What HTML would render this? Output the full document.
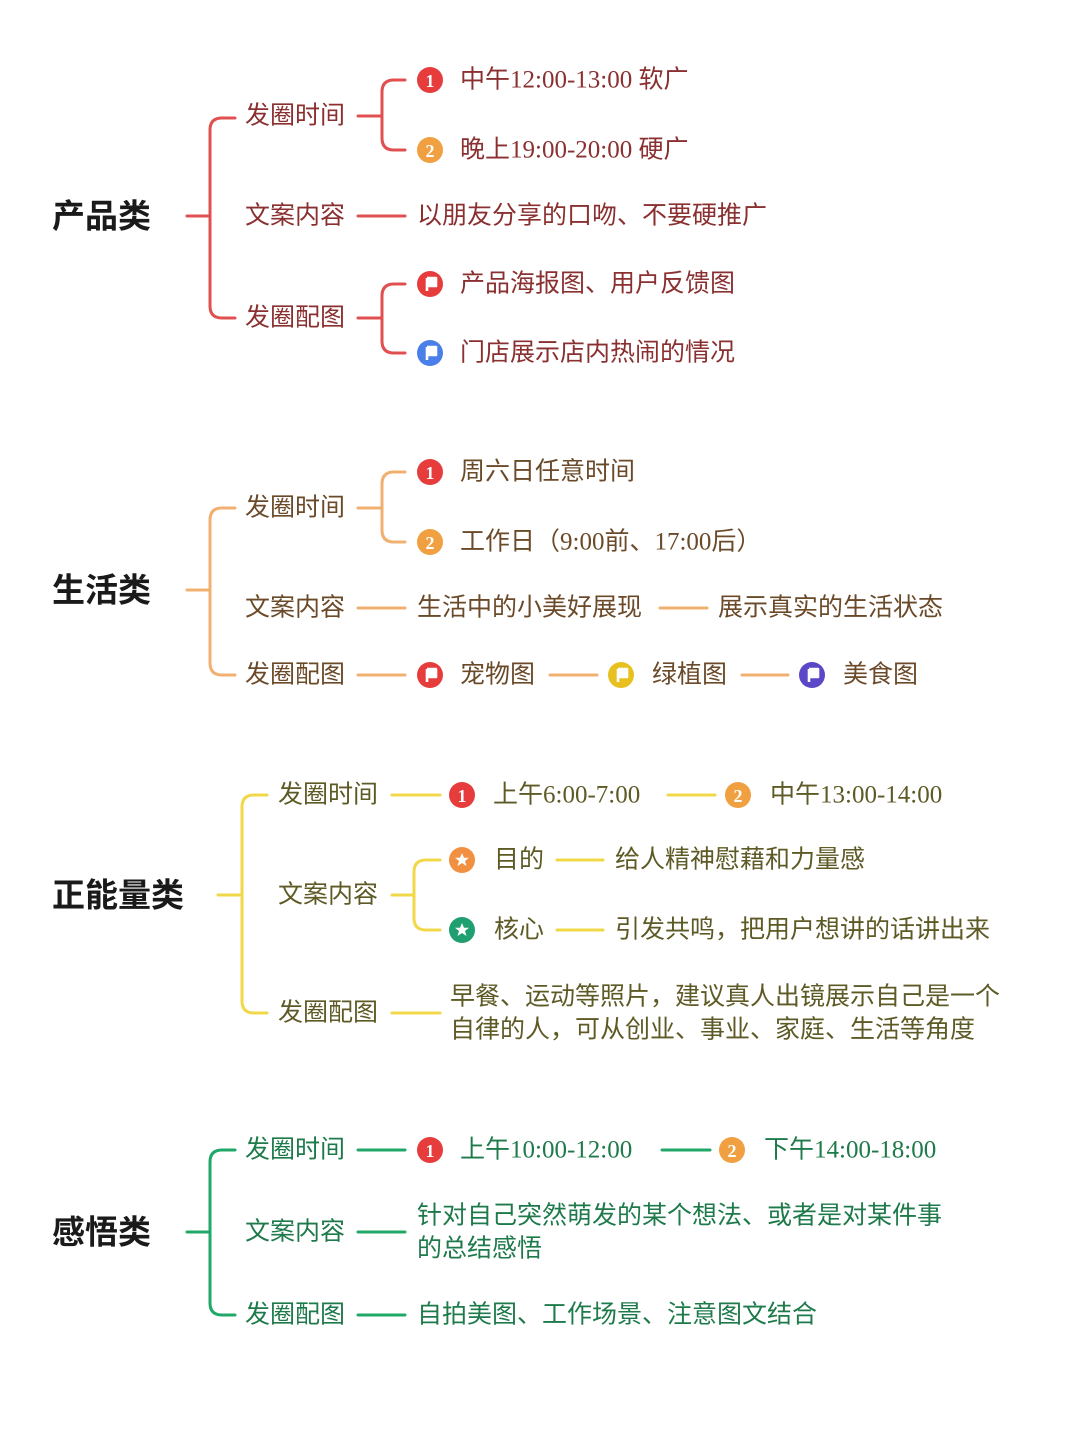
<!DOCTYPE html>
<html><head><meta charset="utf-8"><style>
html,body{margin:0;padding:0;background:#fff;}
svg{display:block;}
text{font-family:"Liberation Serif","Noto Sans CJK SC",serif;font-size:25px;dominant-baseline:central;}
.t{font-family:"Liberation Sans","Noto Sans CJK SC",sans-serif;font-size:33px;font-weight:bold;fill:#1a1a1a;}
</style></head><body>
<svg width="1080" height="1440" viewBox="0 0 1080 1440" xmlns="http://www.w3.org/2000/svg">
<defs>
<g id="flag"><path d="M-4,-6 V7 M-4,-6 H5 V2 H-4" stroke="#fff" stroke-width="2.6" fill="#fff" stroke-linejoin="round"/></g>
<g id="star"><polygon points="0,-7 2,-2.2 7,-2.2 3,1 4.5,6 0,3 -4.5,6 -3,1 -7,-2.2 -2,-2.2" fill="#fff"/></g>
</defs>

<!-- Section 1 red -->
<g fill="none" stroke="#e05050" stroke-width="3" stroke-linecap="round">
<path d="M187,216 H210"/>
<path d="M235,118 H222 Q210,118 210,130 V306 Q210,318 222,318 H235"/>
<path d="M358,116 H382"/>
<path d="M405,80 H394 Q382,80 382,92 V138 Q382,150 394,150 H405"/>
<path d="M358,216 H405"/>
<path d="M358,318 H382"/>
<path d="M405,284 H394 Q382,284 382,296 V341 Q382,353 394,353 H405"/>
</g>
<text class="t" x="52" y="216">产品类</text>
<g fill="#8a3030">
<text x="245" y="116">发圈时间</text>
<text x="245" y="216">文案内容</text>
<text x="245" y="318">发圈配图</text>
<text x="460" y="80">中午12:00-13:00 软广</text>
<text x="460" y="150">晚上19:00-20:00 硬广</text>
<text x="417" y="216">以朋友分享的口吻、不要硬推广</text>
<text x="460" y="284">产品海报图、用户反馈图</text>
<text x="460" y="353">门店展示店内热闹的情况</text>
</g>
<circle cx="430" cy="80" r="13" fill="#e63c3c"/><text x="430" y="81" text-anchor="middle" fill="#fff" style="font-size:18px;font-weight:bold">1</text>
<circle cx="430" cy="150" r="13" fill="#f0a040"/><text x="430" y="151" text-anchor="middle" fill="#fff" style="font-size:18px;font-weight:bold">2</text>
<circle cx="430" cy="284" r="13" fill="#e63c3c"/><use href="#flag" x="431" y="284"/>
<circle cx="430" cy="353" r="13" fill="#4a7ee8"/><use href="#flag" x="431" y="353"/>

<!-- Section 2 orange -->
<g fill="none" stroke="#f0b070" stroke-width="3" stroke-linecap="round">
<path d="M187,590 H210"/>
<path d="M235,508 H222 Q210,508 210,520 V663 Q210,675 222,675 H235"/>
<path d="M358,508 H382"/>
<path d="M405,472 H394 Q382,472 382,484 V530 Q382,542 394,542 H405"/>
<path d="M358,608 H405"/>
<path d="M660,608 H707"/>
<path d="M358,675 H405"/>
<path d="M550,675 H597"/>
<path d="M742,675 H788"/>
</g>
<text class="t" x="52" y="590">生活类</text>
<g fill="#6b4a2a">
<text x="245" y="508">发圈时间</text>
<text x="245" y="608">文案内容</text>
<text x="245" y="675">发圈配图</text>
<text x="460" y="472">周六日任意时间</text>
<text x="460" y="542">工作日（9:00前、17:00后）</text>
<text x="417" y="608">生活中的小美好展现</text>
<text x="718" y="608">展示真实的生活状态</text>
<text x="460" y="675">宠物图</text>
<text x="652" y="675">绿植图</text>
<text x="843" y="675">美食图</text>
</g>
<circle cx="430" cy="472" r="13" fill="#e63c3c"/><text x="430" y="473" text-anchor="middle" fill="#fff" style="font-size:18px;font-weight:bold">1</text>
<circle cx="430" cy="542" r="13" fill="#f0a040"/><text x="430" y="543" text-anchor="middle" fill="#fff" style="font-size:18px;font-weight:bold">2</text>
<circle cx="430" cy="675" r="13" fill="#e63c3c"/><use href="#flag" x="431" y="675"/>
<circle cx="621" cy="675" r="13" fill="#e8c020"/><use href="#flag" x="622" y="675"/>
<circle cx="812" cy="675" r="13" fill="#5a48c8"/><use href="#flag" x="813" y="675"/>

<!-- Section 3 yellow -->
<g fill="none" stroke="#f0d848" stroke-width="3" stroke-linecap="round">
<path d="M218,895 H242"/>
<path d="M267,795 H254 Q242,795 242,807 V1001 Q242,1013 254,1013 H267"/>
<path d="M392,795 H440"/>
<path d="M668,795 H715"/>
<path d="M392,895 H414"/>
<path d="M440,860 H426 Q414,860 414,872 V918 Q414,930 426,930 H440"/>
<path d="M557,860 H603"/>
<path d="M557,930 H603"/>
<path d="M392,1013 H440"/>
</g>
<text class="t" x="52" y="895">正能量类</text>
<g fill="#5e5a26">
<text x="278" y="795">发圈时间</text>
<text x="278" y="895">文案内容</text>
<text x="278" y="1013">发圈配图</text>
<text x="493" y="795">上午6:00-7:00</text>
<text x="770" y="795">中午13:00-14:00</text>
<text x="494" y="860">目的</text>
<text x="494" y="930">核心</text>
<text x="615" y="860">给人精神慰藉和力量感</text>
<text x="615" y="930">引发共鸣，把用户想讲的话讲出来</text>
<text x="450" y="997">早餐、运动等照片，建议真人出镜展示自己是一个</text>
<text x="450" y="1030">自律的人，可从创业、事业、家庭、生活等角度</text>
</g>
<circle cx="462" cy="795" r="13" fill="#e63c3c"/><text x="462" y="796" text-anchor="middle" fill="#fff" style="font-size:18px;font-weight:bold">1</text>
<circle cx="738" cy="795" r="13" fill="#f0a040"/><text x="738" y="796" text-anchor="middle" fill="#fff" style="font-size:18px;font-weight:bold">2</text>
<circle cx="462" cy="860" r="13" fill="#f09040"/><use href="#star" x="462" y="860"/>
<circle cx="462" cy="930" r="13" fill="#20a070"/><use href="#star" x="462" y="930"/>

<!-- Section 4 green -->
<g fill="none" stroke="#20a868" stroke-width="3" stroke-linecap="round">
<path d="M187,1232 H210"/>
<path d="M235,1150 H222 Q210,1150 210,1162 V1303 Q210,1315 222,1315 H235"/>
<path d="M358,1150 H405"/>
<path d="M662,1150 H710"/>
<path d="M358,1232 H405"/>
<path d="M358,1315 H405"/>
</g>
<text class="t" x="52" y="1232">感悟类</text>
<g fill="#1e7a4a">
<text x="245" y="1150">发圈时间</text>
<text x="245" y="1232">文案内容</text>
<text x="245" y="1315">发圈配图</text>
<text x="460" y="1150">上午10:00-12:00</text>
<text x="764" y="1150">下午14:00-18:00</text>
<text x="417" y="1216">针对自己突然萌发的某个想法、或者是对某件事</text>
<text x="417" y="1249">的总结感悟</text>
<text x="417" y="1315">自拍美图、工作场景、注意图文结合</text>
</g>
<circle cx="430" cy="1150" r="13" fill="#e63c3c"/><text x="430" y="1151" text-anchor="middle" fill="#fff" style="font-size:18px;font-weight:bold">1</text>
<circle cx="732" cy="1150" r="13" fill="#f0a040"/><text x="732" y="1151" text-anchor="middle" fill="#fff" style="font-size:18px;font-weight:bold">2</text>
</svg>
</body></html>
